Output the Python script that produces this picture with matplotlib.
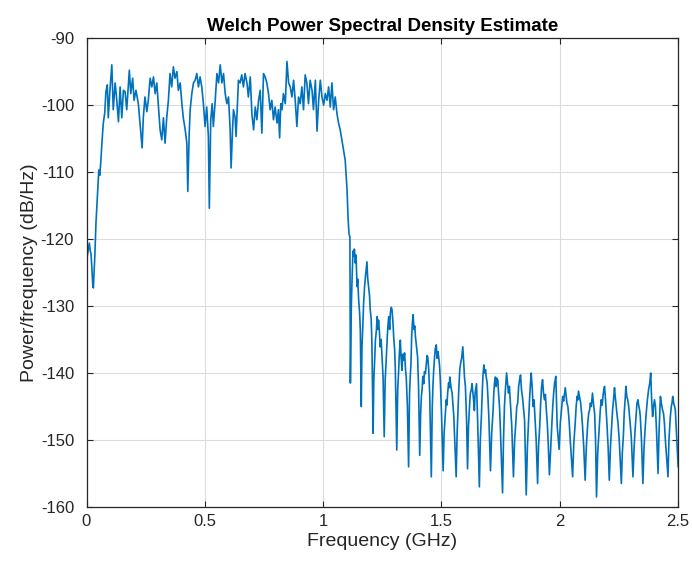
import matplotlib
matplotlib.use("Agg")
import matplotlib.pyplot as plt

# Pass band: frequency points (GHz) and PSD values (dB/Hz)
freq_pass = [
    0.000, 0.003, 0.008, 0.012, 0.016, 0.019, 0.023, 0.026, 0.029, 0.032,
    0.035, 0.040, 0.046, 0.052, 0.056, 0.060, 0.066, 0.071, 0.077, 0.082,
    0.088, 0.092, 0.096, 0.099, 0.107, 0.113, 0.121, 0.128, 0.135, 0.142,
    0.149, 0.156, 0.163, 0.170, 0.181, 0.187, 0.195, 0.201, 0.209, 0.219,
    0.226, 0.235, 0.240, 0.247, 0.255, 0.261, 0.269, 0.276, 0.283, 0.290,
    0.297, 0.304, 0.311, 0.318, 0.325, 0.332, 0.339, 0.346, 0.353, 0.360,
    0.367, 0.374, 0.382, 0.388, 0.396, 0.403, 0.409, 0.417, 0.424, 0.428,
    0.434, 0.438, 0.445, 0.452, 0.459, 0.466, 0.473, 0.480, 0.487, 0.494,
    0.501, 0.508, 0.515, 0.519, 0.525, 0.531, 0.536, 0.544, 0.551, 0.558,
    0.565, 0.572, 0.579, 0.586, 0.593, 0.600, 0.607, 0.611, 0.617, 0.621,
    0.628, 0.632, 0.638, 0.642, 0.649, 0.656, 0.663, 0.670, 0.678, 0.684,
    0.692, 0.699, 0.706, 0.713, 0.720, 0.727, 0.734, 0.741, 0.748, 0.755,
    0.762, 0.769, 0.776, 0.783, 0.790, 0.797, 0.805, 0.811, 0.816, 0.821,
    0.826, 0.832, 0.840, 0.847, 0.854, 0.861, 0.868, 0.875, 0.882, 0.889,
    0.896, 0.903, 0.910, 0.917, 0.924, 0.931, 0.938, 0.945, 0.953, 0.959,
    0.967, 0.974, 0.981, 0.988, 0.995, 1.002, 1.009, 1.016, 1.023, 1.030,
    1.037, 1.044, 1.051, 1.058, 1.065, 1.072, 1.079, 1.086, 1.093, 1.101,
    1.105, 1.109, 1.113,
]
psd_pass = [
    -128.5, -122.6, -121.5, -120.6, -121.8, -122.2, -124.5, -126.6, -127.3, -125.0,
    -122.7, -117.6, -113.7, -109.7, -110.5, -108.7, -105.2, -102.7, -101.2, -98.0,
    -97.0, -101.9, -99.5, -97.8, -94.0, -100.7, -96.7, -99.3, -102.5, -97.3,
    -101.9, -97.8, -98.0, -100.7, -94.8, -98.3, -96.0, -99.3, -97.8, -99.8,
    -102.7, -106.4, -101.9, -98.8, -101.0, -99.3, -96.0, -97.3, -95.8, -98.3,
    -96.7, -100.3, -103.7, -105.2, -101.9, -105.7, -101.9, -99.3, -95.3, -97.3,
    -94.3, -96.0, -95.0, -97.8, -96.7, -99.8, -101.9, -103.7, -105.7, -112.9,
    -104.2, -100.7, -98.3, -96.7, -96.3, -95.3, -97.3, -95.8, -97.3, -99.8,
    -103.2, -100.3, -104.7, -115.4, -102.2, -99.8, -103.2, -99.3, -95.3, -96.7,
    -94.0, -96.7, -95.3, -98.3, -99.8, -98.8, -103.7, -109.4, -103.7, -100.7,
    -101.9, -104.7, -99.8, -96.3, -96.7, -95.5, -97.3, -95.3, -96.7, -98.8,
    -95.8, -101.4, -103.7, -100.3, -102.2, -99.3, -97.8, -104.2, -95.3, -95.8,
    -96.7, -98.3, -100.7, -99.3, -102.2, -100.3, -102.7, -100.7, -104.9, -99.8,
    -100.7, -98.3, -99.8, -93.5, -96.7, -97.3, -98.8, -96.3, -99.3, -103.2,
    -98.8, -99.8, -97.3, -100.7, -95.5, -96.7, -99.8, -96.3, -97.8, -100.7,
    -96.3, -103.9, -99.3, -96.3, -98.8, -100.0, -98.3, -99.3, -97.3, -100.3,
    -96.7, -100.7, -98.8, -101.2, -102.7, -103.7, -105.2, -106.7, -108.2, -112.7,
    -116.7, -119.2, -119.7,
]

# Stop band, read as (frequency GHz, PSD dB/Hz) pairs
stop_a = [
    (1.115, -141.5), (1.119, -130.0), (1.122, -126.1), (1.126, -121.8), (1.129, -122.6),
    (1.132, -121.5), (1.136, -123.6), (1.139, -122.4), (1.143, -127.1), (1.146, -126.0),
    (1.150, -129.1), (1.154, -131.0), (1.157, -133.6), (1.161, -145.0), (1.164, -136.0),
    (1.168, -132.6), (1.171, -129.5), (1.175, -127.1), (1.179, -125.5), (1.185, -123.4),
    (1.188, -125.8), (1.192, -127.1), (1.196, -128.5), (1.199, -130.6), (1.203, -132.0),
    (1.206, -135.6), (1.211, -149.0), (1.214, -141.0), (1.217, -138.6), (1.221, -135.0),
    (1.225, -133.6), (1.228, -131.6), (1.231, -133.5), (1.234, -132.1), (1.238, -134.0),
    (1.241, -136.1), (1.245, -135.0), (1.249, -137.6), (1.253, -140.5), (1.258, -149.5),
    (1.262, -141.0), (1.267, -137.6), (1.271, -134.5), (1.274, -132.8), (1.277, -131.6),
    (1.281, -133.5), (1.284, -131.0), (1.288, -130.2), (1.291, -130.6), (1.295, -132.5),
    (1.298, -134.6), (1.302, -136.5), (1.305, -139.6), (1.311, -151.5), (1.315, -142.5),
    (1.319, -139.6), (1.322, -137.0), (1.326, -135.1), (1.329, -137.5), (1.333, -139.6),
    (1.336, -137.2), (1.340, -138.1), (1.344, -137.0), (1.348, -139.5), (1.351, -140.6),
    (1.356, -145.0), (1.361, -154.0), (1.365, -143.0), (1.368, -140.5), (1.371, -138.6),
    (1.374, -134.5), (1.377, -132.5), (1.380, -131.3), (1.384, -133.5), (1.387, -133.0),
    (1.390, -134.6), (1.394, -136.0), (1.399, -137.6), (1.403, -142.0), (1.408, -152.3),
    (1.412, -146.0), (1.415, -143.5), (1.418, -142.5), (1.421, -140.5), (1.425, -141.6),
    (1.428, -139.8), (1.432, -140.1), (1.436, -138.5), (1.439, -137.4), (1.442, -137.6),
    (1.446, -139.5), (1.450, -143.0), (1.457, -155.5), (1.461, -145.0), (1.464, -141.8),
    (1.467, -139.6), (1.471, -137.5), (1.474, -136.3), (1.478, -135.8), (1.481, -137.8),
    (1.485, -136.8), (1.488, -137.6), (1.492, -139.0), (1.495, -141.1), (1.500, -146.0),
]
stop_b = [
    (1.507, -154.6), (1.511, -149.0), (1.516, -146.1), (1.520, -144.0), (1.523, -144.8),
    (1.526, -143.0), (1.530, -141.5), (1.533, -142.2), (1.535, -140.6), (1.539, -141.8),
    (1.542, -142.5), (1.545, -143.0), (1.549, -145.0), (1.552, -146.5), (1.562, -155.5),
    (1.566, -149.0), (1.569, -146.1), (1.573, -142.5), (1.577, -139.6), (1.581, -138.5),
    (1.585, -137.8), (1.590, -136.1), (1.594, -138.5), (1.597, -140.6), (1.601, -142.0),
    (1.606, -147.0), (1.610, -154.3), (1.614, -148.0), (1.619, -144.6), (1.622, -143.0),
    (1.626, -142.5), (1.629, -141.6), (1.633, -143.0), (1.636, -144.2), (1.639, -145.6),
    (1.642, -143.0), (1.645, -142.3), (1.648, -141.6), (1.653, -147.5), (1.660, -157.0),
    (1.664, -150.0), (1.669, -146.1), (1.672, -143.0), (1.675, -140.5), (1.679, -138.8),
    (1.682, -140.0), (1.686, -139.5), (1.689, -140.6), (1.693, -141.5), (1.696, -143.5),
    (1.700, -146.5), (1.707, -154.6), (1.712, -149.0), (1.718, -145.6), (1.721, -143.0),
    (1.724, -141.5), (1.728, -140.6), (1.731, -142.0), (1.734, -140.8), (1.738, -141.1),
    (1.742, -143.5), (1.745, -145.0), (1.748, -147.5), (1.758, -157.9), (1.762, -150.0),
    (1.766, -145.0), (1.770, -142.5), (1.775, -140.0), (1.779, -141.5), (1.783, -143.0),
    (1.787, -142.0), (1.792, -145.0), (1.797, -148.0), (1.804, -155.5), (1.809, -150.0),
    (1.814, -147.5), (1.818, -145.0), (1.822, -144.5), (1.826, -142.0), (1.830, -141.0),
    (1.834, -140.3), (1.838, -142.5), (1.842, -143.5), (1.846, -145.0), (1.851, -147.0),
    (1.858, -158.2), (1.863, -151.0), (1.868, -147.0), (1.872, -144.0), (1.876, -141.5),
    (1.879, -140.0), (1.883, -142.0), (1.887, -145.0), (1.891, -144.0), (1.896, -147.5),
    (1.900, -150.0), (1.906, -156.5), (1.910, -151.0), (1.915, -148.0), (1.919, -144.5),
    (1.923, -142.0), (1.927, -141.0), (1.931, -143.0), (1.935, -144.0), (1.939, -143.2),
    (1.943, -145.5), (1.947, -147.5), (1.951, -150.5), (1.956, -155.2), (1.961, -151.5),
    (1.966, -148.0), (1.970, -145.0), (1.974, -143.0), (1.978, -141.5), (1.983, -140.5),
    (1.986, -144.0), (1.989, -148.0), (1.997, -151.4),
]
stop_c = [
    (2.002, -147.5), (2.008, -145.0), (2.012, -143.5), (2.016, -144.2), (2.020, -143.0),
    (2.023, -142.2), (2.027, -143.5), (2.030, -144.5), (2.034, -145.0), (2.039, -147.0),
    (2.044, -150.0), (2.054, -155.5), (2.059, -150.5), (2.065, -147.5), (2.069, -145.0),
    (2.073, -143.5), (2.076, -144.0), (2.079, -142.7), (2.083, -143.5), (2.088, -144.5),
    (2.092, -146.0), (2.096, -148.0), (2.101, -151.0), (2.107, -156.0), (2.112, -151.0),
    (2.118, -147.5), (2.122, -146.0), (2.126, -145.5), (2.129, -144.5), (2.133, -145.0),
    (2.138, -143.0), (2.142, -144.5), (2.147, -146.0), (2.151, -150.0), (2.155, -158.5),
    (2.160, -152.0), (2.164, -149.6), (2.168, -147.0), (2.171, -145.5), (2.175, -144.0),
    (2.179, -144.8), (2.183, -143.2), (2.186, -142.5), (2.189, -142.0), (2.193, -144.0),
    (2.199, -147.5), (2.204, -151.0), (2.209, -156.0), (2.214, -151.0), (2.220, -147.5),
    (2.223, -145.5), (2.227, -144.0), (2.231, -142.2), (2.234, -143.5), (2.237, -144.5),
    (2.241, -146.0), (2.246, -147.5), (2.251, -150.0), (2.260, -156.5), (2.264, -152.0),
    (2.269, -149.0), (2.272, -146.0), (2.276, -144.0), (2.279, -142.0), (2.283, -143.5),
    (2.287, -144.0), (2.291, -145.0), (2.296, -147.0), (2.302, -149.6), (2.309, -155.5),
    (2.314, -151.0), (2.319, -148.0), (2.323, -146.0), (2.326, -144.5), (2.330, -144.0),
    (2.334, -145.0), (2.337, -145.5), (2.340, -146.5), (2.345, -150.0), (2.351, -156.5),
    (2.356, -151.0), (2.361, -148.0), (2.365, -146.0), (2.370, -144.0), (2.375, -142.5),
    (2.380, -141.5), (2.384, -140.0), (2.388, -144.0), (2.392, -146.5), (2.396, -145.0),
    (2.400, -144.0), (2.404, -145.0), (2.409, -149.0), (2.415, -155.0), (2.419, -149.0),
    (2.425, -143.5), (2.429, -144.5), (2.434, -145.5), (2.438, -146.0), (2.442, -147.5),
    (2.446, -150.0), (2.457, -155.5), (2.461, -150.0), (2.467, -146.5), (2.471, -145.0),
    (2.474, -144.5), (2.477, -143.5), (2.481, -144.5), (2.485, -145.0), (2.488, -145.5),
    (2.493, -149.0), (2.500, -154.0),
]

x_ticks = [0, 0.5, 1, 1.5, 2, 2.5]
x_ticklabels = ["0", "0.5", "1", "1.5", "2", "2.5"]
y_ticks = [-160, -150, -140, -130, -120, -110, -100, -90]

plt.rcParams["font.family"] = ["Liberation Sans", "DejaVu Sans"]
plt.rcParams["axes.unicode_minus"] = False

fig = plt.figure(figsize=(6.92, 5.65), dpi=100)
ax = fig.add_axes([0.125, 0.1027, 0.855, 0.830])

stop = stop_a + stop_b + stop_c
freq = freq_pass + [p[0] for p in stop]
psd = psd_pass + [p[1] for p in stop]
ax.plot(freq, psd, color="#0072BD", linewidth=1.2)

ax.set_xlim(0, 2.5)
ax.set_ylim(-160, -90)
ax.set_xticks(x_ticks)
ax.set_xticklabels(x_ticklabels)
ax.set_yticks(y_ticks)
ax.grid(True, color="#DCDCDC", linewidth=0.8)
ax.set_axisbelow(True)
ax.tick_params(direction="in", top=True, right=True, length=4, width=0.8,
               colors="#262626", labelsize=12)
ax.tick_params(axis="x", pad=5)
ax.tick_params(axis="y", pad=9)
for s in ax.spines.values():
    s.set_color("#262626")
    s.set_linewidth(0.9)

ax.set_title("Welch Power Spectral Density Estimate", fontsize=13.5,
             fontweight="bold", pad=5)
ax.set_xlabel("Frequency (GHz)", fontsize=14, color="#262626", labelpad=3)
ax.set_ylabel("Power/frequency (dB/Hz)", fontsize=14, color="#262626", labelpad=2)

fig.savefig("out.png", dpi=100)
